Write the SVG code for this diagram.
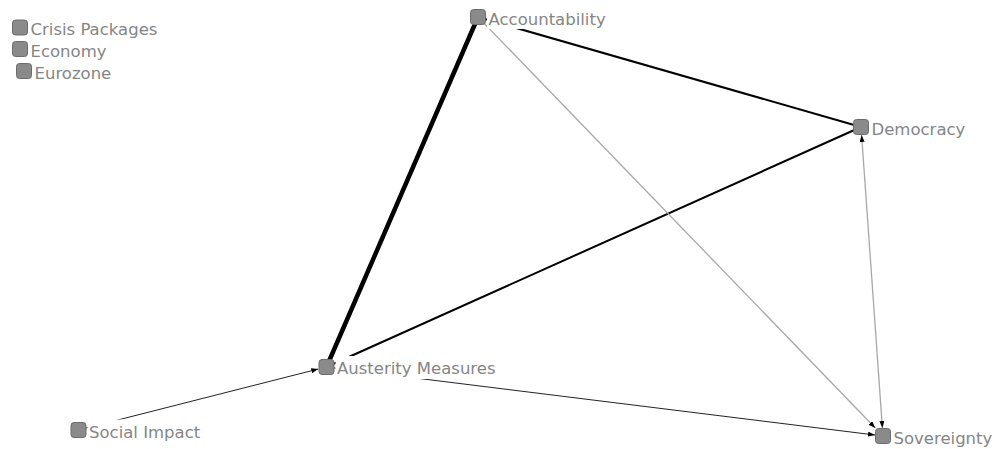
<svg xmlns="http://www.w3.org/2000/svg" width="998" height="449" viewBox="0 0 998 449">
<style>
.bg{fill:#ffffff;stroke:none}
.sq{fill:#8a8a8a;stroke:#6c6c6c;stroke-width:1}
.lbl{font-family:"DejaVu Sans",Verdana,sans-serif;font-size:16.5px;fill:#858585}
.thick{stroke:#000;fill:none}
.thin{stroke:#222;stroke-width:1;fill:none}
.grey{stroke:#a8a8a8;stroke-width:1.3;fill:none}
</style>
<defs>
<marker id="arr" viewBox="0 0 7 5" refX="7" refY="2.5" markerWidth="7" markerHeight="5" markerUnits="userSpaceOnUse" orient="auto-start-reverse">
<path d="M0,0 L7,2.5 L0,5 z" fill="#000"/>
</marker>
</defs>
<rect width="998" height="449" fill="#ffffff"/>
<g id="connectors">
<line class="thick" stroke-width="4.5" x1="326.5" y1="367" x2="478" y2="17"/>
<line class="thick" stroke-width="2" x1="478" y1="17" x2="861" y2="127"/>
<line class="thick" stroke-width="2" x1="326.5" y1="367" x2="861" y2="127"/>
<line class="grey" x1="478" y1="17" x2="875.3" y2="428" marker-end="url(#arr)"/>
<line class="grey" x1="861.6" y1="135" x2="882.4" y2="428" marker-start="url(#arr)" marker-end="url(#arr)"/>
<line class="thin" x1="326.5" y1="367" x2="875" y2="435" marker-end="url(#arr)"/>
<line class="thin" x1="78.5" y1="430" x2="318.3" y2="369" marker-end="url(#arr)"/>
</g>
<g id="node-crisis-packages">
<rect class="sq" x="12.5" y="20" width="15" height="15" rx="3"/>
<text class="lbl" x="30.5" y="35">Crisis Packages</text>
</g>
<g id="node-economy">
<rect class="sq" x="12.5" y="41.5" width="15" height="15" rx="3"/>
<text class="lbl" x="30.5" y="56.5">Economy</text>
</g>
<g id="node-eurozone">
<rect class="sq" x="16.5" y="63.5" width="15" height="15" rx="3"/>
<text class="lbl" x="34.5" y="78.5">Eurozone</text>
</g>
<g id="node-accountability">
<rect class="bg" x="487" y="6" width="122" height="23"/>
<rect class="sq" x="470.5" y="9.5" width="15" height="15" rx="3"/>
<text class="lbl" x="488.5" y="25">Accountability</text>
</g>
<g id="node-democracy">
<rect class="bg" x="870" y="116" width="98" height="23"/>
<rect class="sq" x="853.5" y="119.5" width="15" height="15" rx="3"/>
<text class="lbl" x="871.5" y="135">Democracy</text>
</g>
<g id="node-austerity-measures">
<rect class="bg" x="335.5" y="356" width="164" height="23"/>
<rect class="sq" x="319" y="359.5" width="15" height="15" rx="3"/>
<text class="lbl" x="337" y="374">Austerity Measures</text>
</g>
<g id="node-social-impact">
<rect class="bg" x="87.5" y="419.5" width="122" height="23"/>
<rect class="sq" x="71" y="422.5" width="15" height="15" rx="3"/>
<text class="lbl" x="89" y="437.5">Social Impact</text>
</g>
<g id="node-sovereignty">
<rect class="bg" x="892" y="425" width="104" height="23"/>
<rect class="sq" x="875.5" y="428.5" width="15" height="15" rx="3"/>
<text class="lbl" x="893.5" y="444">Sovereignty</text>
</g>
</svg>
